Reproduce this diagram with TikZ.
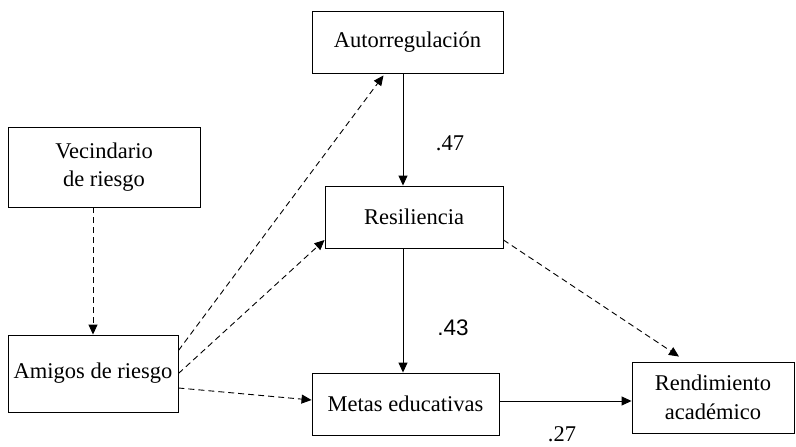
\documentclass[tikz,border=0pt]{standalone}
\usepackage{fontspec}
\usepackage{tikz}
\usetikzlibrary{arrows.meta}
\setmainfont{Liberation Serif}
\newfontfamily\numsans{Liberation Sans}

\tikzset{
  varbox/.style={draw, line width=0.9pt, align=center, inner sep=2pt,
    font=\fontsize{22.5}{28.5}\selectfont},
  solidarrow/.style={line width=0.9pt, -{Triangle[length=10pt,width=9pt]}},
  dashedarrow/.style={line width=0.9pt, dash pattern=on 6pt off 4pt,
    -{Triangle[length=10pt,width=9pt]}},
  coef/.style={font=\fontsize{22.5}{24}\selectfont}
}

\begin{document}
\begin{tikzpicture}[x=1pt, y=-1pt]
			\useasboundingbox (0,0) rectangle (796,447);
			%boxes
			\node[varbox, minimum width=191pt, minimum height=62pt] (auto) at (407.5,42) {Autorregulación};
			\node[varbox, minimum width=192pt, minimum height=80pt] (vec) at (104,167) {Vecindario\\de riesgo};
			\node[varbox, minimum width=178pt, minimum height=62pt] (resi) at (414,217) {Resiliencia};
			\node[varbox, minimum width=170pt, minimum height=77pt] (amigos) at (93,373.5) {Amigos de riesgo};
			\node[varbox, minimum width=187pt, minimum height=62pt] (metas) at (405.5,404) {Metas educativas};
			\node[varbox, minimum width=162pt, minimum height=71pt] (rend) at (713,397.5) {Rendimiento\\académico};
			%solid paths
			\coordinate (col) at (403,0);
			\draw[solidarrow] (auto.south -| col) -- (resi.north -| col);
			\draw[solidarrow] (resi.south -| col) -- (metas.north -| col);
			\draw[solidarrow] ([yshift=3pt]metas.east) -- ([yshift=3pt]metas.east -| rend.west);
			%dashed paths
			\draw[dashedarrow] (vec.south -| amigos.north) -- (amigos.north);
			\draw[dashedarrow] ([yshift=23pt]amigos.east) -- ([xshift=-24pt,yshift=-2pt]auto.south);
			\draw[dashedarrow] (amigos.east) -- ([yshift=-23pt]resi.west);
			\draw[dashedarrow] ([yshift=-14.5pt]amigos.east) -- ([yshift=4pt]metas.west);
			\draw[dashedarrow] ([yshift=-23pt]resi.east) -- ([xshift=-34pt,yshift=5pt]rend.north);
			%coefficients
			\node[coef] (c47) at (450,143) {.47};
			\node[coef] (c43) at (453,328) {\numsans .43};
			\node[coef, inner sep=0pt] (c27) at (562,434) {.27};
		\end{tikzpicture}
\end{document}
